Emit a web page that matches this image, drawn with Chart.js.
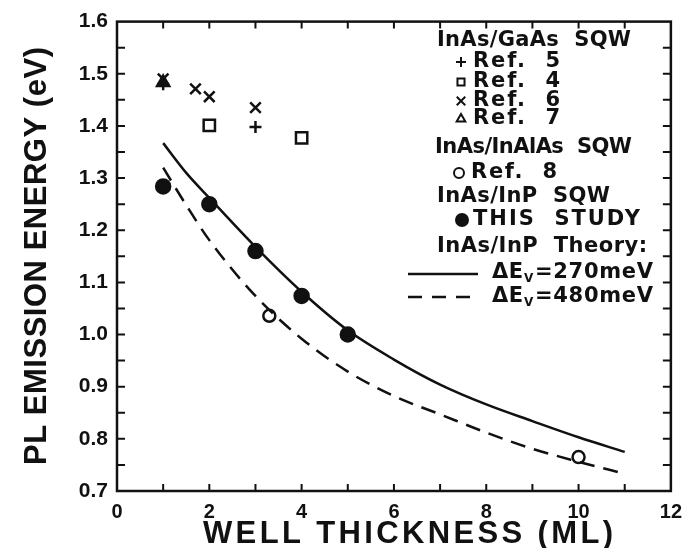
<!DOCTYPE html>
<html>
<head>
<meta charset="utf-8">
<script src="https://cdn.jsdelivr.net/npm/chart.js@4"></script>
<style>
  html, body { margin: 0; padding: 0; background: #fff; }
  #wrap { width: 691px; height: 548px; }
</style>
</head>
<body>
<div id="wrap"><canvas id="c"></canvas></div>
<script>
// measured PL peaks, x = well thickness (ML), y = energy (eV)
const ref5 = [{x: 1, y: 1.48}, {x: 3, y: 1.398}];
const ref4 = [{x: 2, y: 1.401}, {x: 4, y: 1.377}];
const ref6 = [{x: 1, y: 1.49}, {x: 1.7, y: 1.471}, {x: 2, y: 1.456}, {x: 3, y: 1.435}];
const ref7 = [{x: 1, y: 1.483}];
const ref8 = [{x: 3.3, y: 1.036}, {x: 10, y: 0.765}];
const thisStudy = [{x: 1, y: 1.284}, {x: 2, y: 1.25}, {x: 3, y: 1.16}, {x: 4, y: 1.074}, {x: 5, y: 1.0}];

// theory curves read at fixed thicknesses
const theoryX = [1, 1.5, 2, 3, 4, 5, 6, 7, 8, 9, 10, 11];
const theory270 = [1.367, 1.31, 1.262, 1.168, 1.082, 1.008, 0.952, 0.904, 0.866, 0.834, 0.803, 0.775];
const theory480 = [1.32, 1.248, 1.181, 1.074, 0.992, 0.929, 0.882, 0.847, 0.812, 0.781, 0.756, 0.733];

const xTicks = [0, 2, 4, 6, 8, 10, 12];
const yTicks = [0.7, 0.8, 0.9, 1.0, 1.1, 1.2, 1.3, 1.4, 1.5, 1.6];

const FONT = "'Liberation Sans', Arial, sans-serif";
const KEY_FONT = "'DejaVu Sans', Verdana, sans-serif";
const INK = '#111';

function toPts(xs, ys) {
  return xs.map((x, i) => ({x: x, y: ys[i]}));
}

// draw text from x, adjusting letter spacing so it spans `w` pixels
function spacedText(ctx, txt, x, y, w) {
  ctx.save();
  ctx.letterSpacing = '0px';
  const natural = ctx.measureText(txt).width;
  const gap = (w - natural) / Math.max(1, txt.length - 1);
  ctx.letterSpacing = gap.toFixed(2) + 'px';
  ctx.textAlign = 'left';
  ctx.fillText(txt, x, y);
  ctx.restore();
}

// frame, inward ticks, axis titles and the in-plot legend
const framePlugin = {
  id: 'frame',
  afterDraw(chart) {
    const ctx = chart.ctx;
    const {left, right, top, bottom} = chart.chartArea;
    const xs = chart.scales.x, ys = chart.scales.y;
    ctx.save();
    ctx.strokeStyle = INK;
    ctx.lineWidth = 2.5;
    ctx.strokeRect(left, top, right - left, bottom - top);

    ctx.lineWidth = 2;
    ctx.beginPath();
    for (let v = 1; v < 12; v++) {
      const px = xs.getPixelForValue(v);
      ctx.moveTo(px, bottom); ctx.lineTo(px, bottom - 7);
      ctx.moveTo(px, top); ctx.lineTo(px, top + 7);
    }
    for (let k = 1; k < 18; k++) {
      const py = ys.getPixelForValue(0.7 + k * 0.05);
      ctx.moveTo(left, py); ctx.lineTo(left + 8, py);
      ctx.moveTo(right, py); ctx.lineTo(right - 8, py);
    }
    ctx.stroke();

    // axis titles
    ctx.fillStyle = INK;
    ctx.textBaseline = 'middle';
    ctx.font = 'bold 31px ' + FONT;
    spacedText(ctx, 'WELL THICKNESS (ML)', 203, 534, 410);
    ctx.save();
    ctx.translate(37, 256);
    ctx.rotate(-Math.PI / 2);
    spacedText(ctx, 'PL EMISSION ENERGY (eV)', -209, 0, 418);
    ctx.restore();

    // legend
    const big = 'bold 21px ' + KEY_FONT;
    ctx.font = big;
    const item = (style, r, fill, mx, txt, tx, y, w) => {
      ctx.fillStyle = fill ? INK : 'rgba(0,0,0,0)';
      ctx.strokeStyle = INK;
      ctx.lineWidth = 2;
      Chart.helpers.drawPoint(ctx, {pointStyle: style, radius: r, rotation: 0, borderWidth: 2}, mx, y);
      if (fill) ctx.fill();
      ctx.fillStyle = INK;
      spacedText(ctx, txt, tx, y, w);
    };
    spacedText(ctx, 'InAs/GaAs  SQW', 437, 41, 194);
    item('cross', 5, false, 461, 'Ref.  5', 473, 62, 87);
    item('rect', 5, false, 461, 'Ref.  4', 473, 82, 87);
    item('crossRot', 6, false, 461, 'Ref.  6', 473, 101, 87);
    item('triangle', 5, false, 461, 'Ref.  7', 473, 119, 87);
    spacedText(ctx, 'InAs/InAlAs  SQW', 435, 148, 197);
    item('circle', 5, false, 459, 'Ref.  8', 471, 173, 86);
    spacedText(ctx, 'InAs/InP  SQW', 437, 197, 173);
    item('circle', 6, true, 462, 'THIS  STUDY', 473, 220, 167);
    spacedText(ctx, 'InAs/InP  Theory:', 437, 247, 210);

    const delta = (val, y) => {
      // ΔE with a subscript V, then the offset value
      ctx.font = big;
      spacedText(ctx, '\u0394E', 492, y, 31);
      ctx.font = 'bold 12px ' + KEY_FONT;
      spacedText(ctx, 'V', 524, y + 6, 9);
      ctx.font = big;
      spacedText(ctx, '=' + val + 'meV', 535, y, 118);
    };
    ctx.lineWidth = 2.5;
    ctx.beginPath();
    ctx.moveTo(408, 274); ctx.lineTo(478, 274);
    ctx.stroke();
    delta('270', 273);
    ctx.setLineDash([14, 10]);
    ctx.beginPath();
    ctx.moveTo(408, 297); ctx.lineTo(478, 297);
    ctx.stroke();
    ctx.setLineDash([]);
    delta('480', 297);
    ctx.restore();
  }
};

const markerBase = {
  showLine: false,
  borderColor: INK,
  backgroundColor: 'rgba(0,0,0,0)',
  borderWidth: 2.5
};

new Chart(document.getElementById('c'), {
  type: 'scatter',
  data: {
    datasets: [
      {label: 'ΔEv=270meV', data: toPts(theoryX, theory270), showLine: true, pointRadius: 0,
        borderColor: INK, borderWidth: 2.5, cubicInterpolationMode: 'monotone'},
      {label: 'ΔEv=480meV', data: toPts(theoryX, theory480), showLine: true, pointRadius: 0,
        borderColor: INK, borderWidth: 2.5, borderDash: [15, 9], cubicInterpolationMode: 'monotone'},
      {...markerBase, label: 'Ref. 5', data: ref5, pointStyle: 'cross', pointRadius: 6},
      {...markerBase, label: 'Ref. 4', data: ref4, pointStyle: 'rect', pointRadius: 8},
      {...markerBase, label: 'Ref. 6', data: ref6, pointStyle: 'crossRot', pointRadius: 7.5},
      {...markerBase, label: 'Ref. 7', data: ref7, pointStyle: 'triangle', pointRadius: 7, backgroundColor: INK},
      {...markerBase, label: 'Ref. 8', data: ref8, pointStyle: 'circle', pointRadius: 6},
      {...markerBase, label: 'THIS STUDY', data: thisStudy, pointStyle: 'circle', pointRadius: 7, backgroundColor: INK}
    ]
  },
  options: {
    responsive: true,
    maintainAspectRatio: false,
    animation: false,
    layout: {padding: {top: 15, right: 16, left: 0, bottom: 0}},
    plugins: {legend: {display: false}, tooltip: {enabled: false}},
    scales: {
      x: {
        type: 'linear', min: 0, max: 12,
        afterFit: s => { s.height = 57; },
        afterBuildTicks: s => { s.ticks = xTicks.map(v => ({value: v})); },
        grid: {display: false, drawTicks: false},
        border: {display: false},
        ticks: {color: INK, padding: 9, font: {family: FONT, size: 20, weight: 'bold'}, maxRotation: 0}
      },
      y: {
        type: 'linear', min: 0.7, max: 1.6,
        afterFit: s => { s.width = 117; },
        afterBuildTicks: s => { s.ticks = yTicks.map(v => ({value: v})); },
        grid: {display: false, drawTicks: false},
        border: {display: false},
        ticks: {color: INK, padding: 9, font: {family: FONT, size: 21, weight: 'bold'},
          callback: v => v.toFixed(1)}
      }
    }
  },
  plugins: [framePlugin]
});
</script>
</body>
</html>
